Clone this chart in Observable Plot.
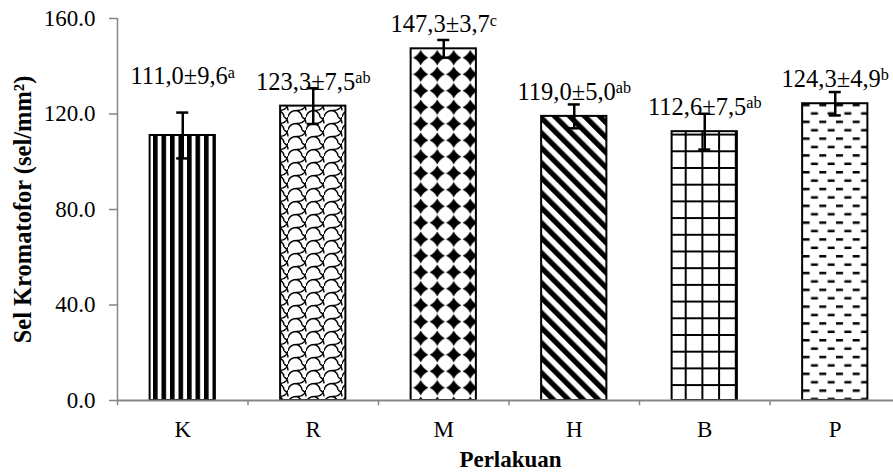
<!DOCTYPE html>
<html>
<head>
<meta charset="utf-8">
<script src="https://cdn.jsdelivr.net/npm/d3@7"></script>
<script src="https://cdn.jsdelivr.net/npm/@observablehq/plot@0.6"></script>
<style>
  html, body { margin: 0; padding: 0; background: #fff; }
</style>
</head>
<body>
<div id="chart"></div>
<script>
const categories = ["K", "R", "M", "H", "B", "P"];
const means = [111.0, 123.3, 147.3, 119.0, 112.6, 124.3];
const sds = [9.6, 7.5, 3.7, 5.0, 7.5, 4.9];
const letters = ["a", "ab", "c", "ab", "ab", "b"];
const yTicks = [0, 40, 80, 120, 160];
const xTitle = "Perlakuan";
const yTitle = "Sel Kromatofor (sel/mm²)";

const fmtComma = v => v.toFixed(1).replace(".", ",");
const data = categories.map((c, i) => ({
  cat: c, mean: means[i], sd: sds[i], letter: letters[i],
  label: `${fmtComma(means[i])}±${fmtComma(sds[i])}^${letters[i]}`
}));

const axisGray = "#868686";
const FONT = "Liberation Serif";
const FS = 23;
const halfStep = 65.25; // offset from band centre to band boundary
const txt = {fontFamily: FONT, fontSize: FS, fill: "black"};
const lbl = {fontFamily: FONT, fontSize: 24.5, fill: "black"};

const plot = Plot.plot({
  width: 893,
  height: 474,
  marginLeft: 117,
  marginRight: 0,
  marginTop: 18,
  marginBottom: 74,
  style: {fontFamily: FONT, fontSize: FS + "px", background: "white", color: "black"},
  x: {type: "band", domain: categories, range: [117, 900], paddingInner: 0.5, paddingOuter: 0.25, align: 0.5, round: false},
  y: {domain: [0, 160]},
  color: {type: "identity"},
  marks: [
    Plot.barY(data, {x: "cat", y: "mean", fill: d => `url(#pat-${d.cat})`, stroke: "black", strokeWidth: 2}),
    // value labels
    Plot.text(data.filter(d => d.cat === "K"), {x: "cat", y: "mean", text: "label", dy: -51, lineAnchor: "bottom", ...lbl}),
    Plot.text(data.filter(d => d.cat !== "K"), {x: "cat", y: "mean", text: "label", dy: -16.5, lineAnchor: "bottom", ...lbl}),
    // error bars
    Plot.ruleX(data, {x: "cat", y1: d => d.mean - d.sd, y2: d => d.mean + d.sd, stroke: "black", strokeWidth: 2.5}),
    Plot.tickY(data, {x: "cat", y: d => d.mean + d.sd, inset: 26.6, stroke: "black", strokeWidth: 2.5}),
    Plot.tickY(data, {x: "cat", y: d => d.mean - d.sd, inset: 26.6, stroke: "black", strokeWidth: 2.5}),
    // x axis line and boundary ticks
    Plot.ruleY([0], {stroke: axisGray, strokeWidth: 2}),
    Plot.ruleX(categories, {x: d => d, y1: 0, y2: -2.2, dx: -halfStep, stroke: axisGray, strokeWidth: 1.5}),
    // y axis line
    Plot.ruleX([categories[0]], {x: d => d, y1: 0, y2: 160, dx: -halfStep, stroke: axisGray, strokeWidth: 1.5}),
    Plot.axisY({ticks: yTicks, tickFormat: d3.format(".1f"), tickSize: 8, tickPadding: 14, stroke: axisGray, strokeWidth: 1.5, label: null, ...txt}),
    Plot.axisX({tickSize: 0, tickPadding: 20, label: null, ...txt}),
    // titles
    Plot.text([yTitle], {text: d => d, frameAnchor: "left", textAnchor: "middle", rotate: -90, dx: -94, fontWeight: "bold", ...lbl}),
    Plot.text([xTitle], {text: d => d, frameAnchor: "bottom", textAnchor: "middle", lineAnchor: "bottom", dy: 66, dx: 5, fontWeight: "bold", ...txt})
  ]
});

const svg = d3.select(plot);
svg.insert("defs", ":first-child").html(`
  <pattern id="pat-K" width="8.5" height="10" patternUnits="userSpaceOnUse">
    <rect width="8.5" height="10" fill="white"/>
    <rect width="4.6" height="10" fill="black"/>
  </pattern>
  <pattern id="pat-R" width="18" height="13" patternUnits="userSpaceOnUse">
    <rect width="18" height="13" fill="white"/>
    <path d="M0,13 C1,8 5,6.5 9,6.5 C13,6.5 17,5 18,0 M9,6.5 C12,8 14,10 14,13 M-4,0 C-1,1.5 0,3 0,6.5 M14,0 C17,1.5 18,3.5 18,6.5" fill="none" stroke="black" stroke-width="1.4"/>
  </pattern>
  <pattern id="pat-M" width="16.5" height="16.5" patternUnits="userSpaceOnUse">
    <rect width="16.5" height="16.5" fill="white"/>
    <path d="M8.25,0.6 Q10.8,5.7 15.9,8.25 Q10.8,10.8 8.25,15.9 Q5.7,10.8 0.6,8.25 Q5.7,5.7 8.25,0.6Z" fill="black"/>
  </pattern>
  <pattern id="pat-H" width="10.6" height="10.6" patternUnits="userSpaceOnUse" patternTransform="rotate(-45)">
    <rect width="10.6" height="10.6" fill="white"/>
    <rect width="5.3" height="10.6" fill="black"/>
  </pattern>
  <pattern id="pat-B" width="16.7" height="16.7" patternUnits="userSpaceOnUse">
    <rect width="16.7" height="16.7" fill="white"/>
    <path d="M0,1H16.7M1,0V16.7" stroke="black" stroke-width="2"/>
  </pattern>
  <pattern id="pat-P" width="16.7" height="16.8" patternUnits="userSpaceOnUse">
    <rect width="16.7" height="16.8" fill="white"/>
    <rect x="1" y="3" width="7" height="2.5" fill="black"/>
    <rect x="9.35" y="11.4" width="7" height="2.5" fill="black"/>
  </pattern>
`);

// superscript significance letters
svg.selectAll("text").each(function () {
  const t = this.textContent;
  if (this.children.length === 0 && t.includes("^")) {
    const parts = t.split("^");
    this.textContent = parts[0];
    d3.select(this).append("tspan").attr("dy", "-0.42em").attr("font-size", "0.66em").text(parts[1]);
  }
});

document.getElementById("chart").appendChild(plot);
</script>
</body>
</html>
